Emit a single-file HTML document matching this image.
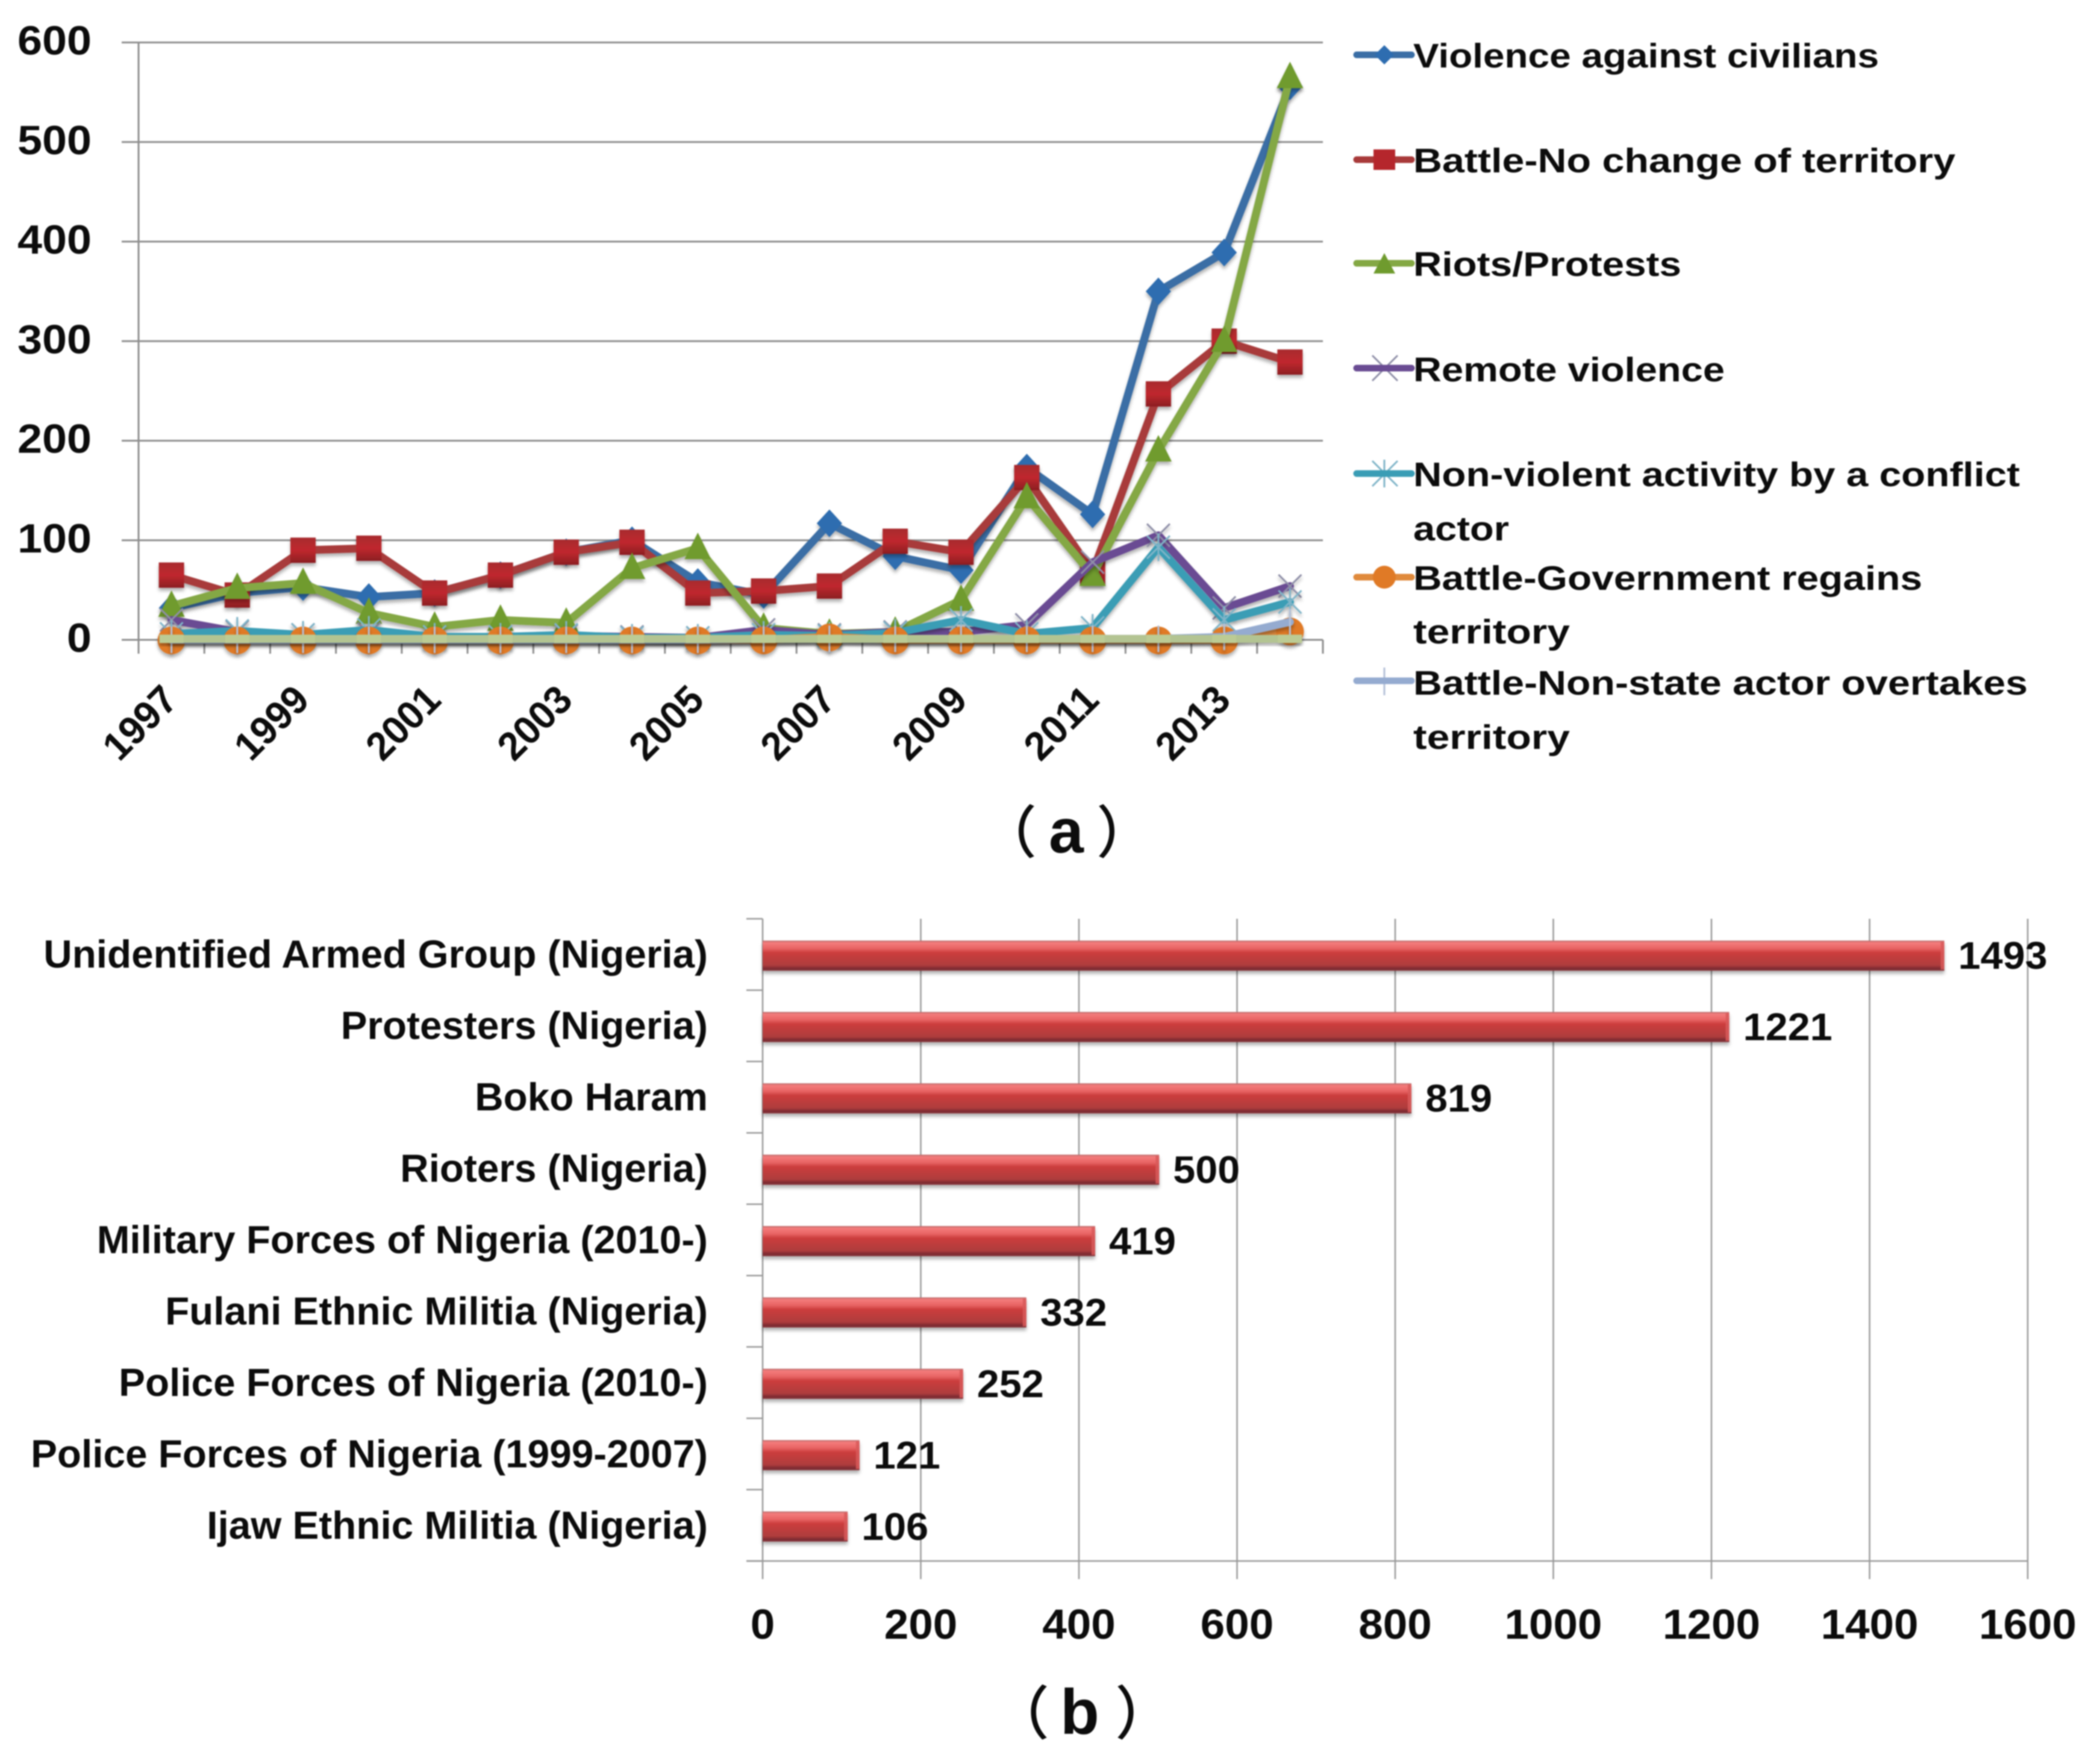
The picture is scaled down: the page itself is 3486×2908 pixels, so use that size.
<!DOCTYPE html>
<html lang="en">
<head>
<meta charset="utf-8">
<title>Nigeria conflict events by type and actor</title>
<style>
html,body{margin:0;padding:0;background:#fff;}
svg{display:block;filter:blur(1.1px);}
text{font-family:"Liberation Sans","Noto Sans CJK SC",sans-serif;font-weight:700;fill:#0c0c0c;}
</style>
</head>
<body>
<svg id="figure" xmlns="http://www.w3.org/2000/svg" width="3486" height="2908" viewBox="0 0 3486 2908">
  <defs>
    <linearGradient id="barFill" x1="0" y1="0" x2="0" y2="1">
      <stop offset="0" stop-color="#b86a6a"/>
      <stop offset="0.07" stop-color="#f47c7c"/>
      <stop offset="0.26" stop-color="#e86464"/>
      <stop offset="0.4" stop-color="#cc3e3e"/>
      <stop offset="0.82" stop-color="#ae3c3c"/>
      <stop offset="0.93" stop-color="#7c2a32"/>
      <stop offset="1" stop-color="#8a3a3e"/>
    </linearGradient>
    <linearGradient id="squareFill" x1="0" y1="0" x2="0" y2="1">
      <stop offset="0" stop-color="#a82a2e"/>
      <stop offset="0.5" stop-color="#c0282e"/>
      <stop offset="1" stop-color="#8c1e22"/>
    </linearGradient>
    <filter id="softShadow" x="-30%" y="-30%" width="160%" height="170%">
      <feDropShadow dx="0" dy="5" stdDeviation="3" flood-color="#000" flood-opacity="0.3"/>
    </filter>
  </defs>

  <g id="chartA"></g>

  <g id="legendA">
    <g>
      <line x1="2252" y1="91" x2="2343" y2="91" stroke="#3a6ea5" stroke-width="11" stroke-linecap="round"/>
      <polygon points="2298,75 2314,91 2298,107 2282,91" fill="#2e6db0"/>
      <text x="2346" y="112" font-size="57" textLength="773" lengthAdjust="spacingAndGlyphs">Violence against civilians</text>
    </g>
    <g>
      <line x1="2252" y1="265" x2="2343" y2="265" stroke="#a83a3a" stroke-width="11" stroke-linecap="round"/>
      <rect x="2280" y="248" width="36" height="34" fill="#b5262c"/>
      <text x="2346" y="286" font-size="57" textLength="900" lengthAdjust="spacingAndGlyphs">Battle-No change of territory</text>
    </g>
    <g>
      <line x1="2252" y1="437" x2="2343" y2="437" stroke="#84a844" stroke-width="11" stroke-linecap="round"/>
      <polygon points="2298,420 2316,454 2280,454" fill="#6f9b2e"/>
      <text x="2346" y="458" font-size="57" textLength="445" lengthAdjust="spacingAndGlyphs">Riots/Protests</text>
    </g>
    <g>
      <line x1="2278" y1="590" x2="2320" y2="632" stroke="#8f8fa8" stroke-width="3"/>
      <line x1="2278" y1="632" x2="2320" y2="590" stroke="#8f8fa8" stroke-width="3"/>
      <line x1="2252" y1="611" x2="2343" y2="611" stroke="#6a4c93" stroke-width="11" stroke-linecap="round"/>
      <text x="2346" y="633" font-size="57" textLength="517" lengthAdjust="spacingAndGlyphs">Remote violence</text>
    </g>
    <g>
      <line x1="2278" y1="765" x2="2320" y2="807" stroke="#7fb4c8" stroke-width="3"/>
      <line x1="2278" y1="807" x2="2320" y2="765" stroke="#7fb4c8" stroke-width="3"/>
      <line x1="2298" y1="763" x2="2298" y2="809" stroke="#7fb4c8" stroke-width="3"/>
      <line x1="2252" y1="786" x2="2343" y2="786" stroke="#3a9db5" stroke-width="11" stroke-linecap="round"/>
      <text x="2346" y="807" font-size="57" textLength="1007" lengthAdjust="spacingAndGlyphs">Non-violent activity by a conflict</text>
      <text x="2346" y="897" font-size="57" textLength="159" lengthAdjust="spacingAndGlyphs">actor</text>
    </g>
    <g>
      <line x1="2252" y1="958" x2="2343" y2="958" stroke="#e08a3c" stroke-width="11" stroke-linecap="round"/>
      <circle cx="2298" cy="958" r="19" fill="#e07a26"/>
      <text x="2346" y="979" font-size="57" textLength="845" lengthAdjust="spacingAndGlyphs">Battle-Government regains</text>
      <text x="2346" y="1068" font-size="57" textLength="260" lengthAdjust="spacingAndGlyphs">territory</text>
    </g>
    <g>
      <line x1="2298" y1="1108" x2="2298" y2="1154" stroke="#b4c0d8" stroke-width="3"/>
      <line x1="2252" y1="1130" x2="2343" y2="1130" stroke="#95abd0" stroke-width="11" stroke-linecap="round"/>
      <text x="2346" y="1153" font-size="57" textLength="1020" lengthAdjust="spacingAndGlyphs">Battle-Non-state actor overtakes</text>
      <text x="2346" y="1243" font-size="57" textLength="260" lengthAdjust="spacingAndGlyphs">territory</text>
    </g>
  </g>

  <text font-size="104" y="1415"><tspan x="1627" font-size="94" style="font-weight:500">（</tspan><tspan x="1741">a</tspan><tspan x="1820" font-size="94" style="font-weight:500">）</tspan></text>

  <g id="chartB"></g>

  <text font-size="106" y="2878"><tspan x="1646" font-size="96" style="font-weight:500">（</tspan><tspan x="1760">b</tspan><tspan x="1851" font-size="96" style="font-weight:500">）</tspan></text>
</svg>

<script>
// ---- Chart (a) data ----
const years = [1997,1998,1999,2000,2001,2002,2003,2004,2005,2006,2007,2008,2009,2010,2011,2012,2013,2014];
const yTicksA = [0,100,200,300,400,500,600];
const violenceAgainstCivilians = [32,47,53,43,47,65,88,100,58,45,117,84,70,173,126,350,389,556];
const battleNoChange = [65,45,90,92,47,65,88,98,47,49,54,99,88,163,68,247,300,279];
const riotsProtests = [34,52,57,27,13,20,17,72,92,12,6,8,40,143,65,190,300,565];
const remoteViolence = [20,8,5,6,3,3,4,3,2,10,5,8,8,15,78,105,32,54];
const nonViolentActivity = [6,9,5,10,3,3,5,2,2,5,4,7,20,6,12,93,20,38];
const battleGovernmentRegains = [0,0,0,0,0,0,0,0,0,0,3,0,0,0,0,0,0,9];
const battleNonStateOvertakes = [0,0,0,0,0,0,0,0,0,1,1,1,1,1,1,1,3,18];
const otherEvents = [1,1,1,1,1,1,1,1,1,1,1,1,1,1,1,1,1,1];

// ---- Chart (b) data ----
const actors = ["Unidentified Armed Group (Nigeria)","Protesters (Nigeria)","Boko Haram","Rioters (Nigeria)","Military Forces of Nigeria (2010-)","Fulani Ethnic Militia (Nigeria)","Police Forces of Nigeria (2010-)","Police Forces of Nigeria (1999-2007)","Ijaw Ethnic Militia (Nigeria)"];
const actorEvents = [1493,1221,819,500,419,332,252,121,106];
const xTicksB = [0,200,400,600,800,1000,1200,1400,1600];

const NS = "http://www.w3.org/2000/svg";
function make(parent, tag, attrs) {
  const el = document.createElementNS(NS, tag);
  for (const k in attrs) el.setAttribute(k, attrs[k]);
  parent.appendChild(el);
  return el;
}

// ---- Axis functions ----
const aLeft = 230, aRight = 2196, aBase = 1062, aTop = 70.5, aMax = 600;
function xA(i) { return aLeft + (i + 0.5) * (aRight - aLeft) / years.length; }
function yA(v) { return aBase - v * (aBase - aTop) / aMax; }
const bLeft = 1266, bRight = 3366, bTop = 1525, bBase = 2591, bMax = 1600;
function xB(v) { return bLeft + v * (bRight - bLeft) / bMax; }
function bandB(i) { return bTop + i * (bBase - bTop) / actors.length; }
const bandHeight = (bBase - bTop) / actors.length;

const chartA = document.getElementById("chartA");
const chartB = document.getElementById("chartB");
const gridColor = "#8e8e8e";

// ---- Chart (a) axes ----
const axesA = make(chartA, "g", {});


yTicksA.forEach(function (t) {
  const g = make(axesA, "line", {x1: 202, x2: aRight, y1: yA(t), y2: yA(t), stroke: gridColor, "stroke-width": 3});
  
  
  const s = String(t);
  const lab = make(axesA, "text", {x: 152, y: yA(t) + 20, "font-size": 68, "text-anchor": "end", textLength: s.length * 41, lengthAdjust: "spacingAndGlyphs"});
  lab.textContent = s;
  
  
});
const yAxisLine = make(axesA, "line", {x1: aLeft, x2: aLeft, y1: aTop, y2: 1085, stroke: gridColor, "stroke-width": 3});


for (let i = 0; i <= years.length; i++) {
  const tx = aLeft + i * (aRight - aLeft) / years.length;
  const tick = make(axesA, "line", {x1: tx, x2: tx, y1: aBase, y2: 1085, stroke: gridColor, "stroke-width": 3});
  
  
}
years.forEach(function (yr, i) {
  if (i % 2) return;
  const cx = xA(i) - 52, cy = 1200;
  const lab = make(axesA, "text", {x: cx, y: cy + 22, "font-size": 66, "text-anchor": "middle", textLength: 142, lengthAdjust: "spacingAndGlyphs", transform: "rotate(-45 " + cx + " " + cy + ")"});
  lab.textContent = yr;
  
  
});

// ---- Chart (a) series ----
function markerDiamond(g, x, y, c) {
  make(g, "polygon", {points: [x, y - 23, x + 21, y, x, y + 23, x - 21, y].join(","), fill: c});
}
function markerSquare(g, x, y) {
  make(g, "rect", {x: x - 21, y: y - 21, width: 42, height: 42, fill: "url(#squareFill)"});
}
function markerTriangle(g, x, y, c) {
  make(g, "polygon", {points: [x, y - 26, x + 22, y + 18, x - 22, y + 18].join(","), fill: c});
}
function markerX(g, x, y, c) {
  make(g, "line", {x1: x - 19, y1: y - 19, x2: x + 19, y2: y + 19, stroke: c, "stroke-width": 3});
  make(g, "line", {x1: x - 19, y1: y + 19, x2: x + 19, y2: y - 19, stroke: c, "stroke-width": 3});
}
function markerStar(g, x, y, c) {
  markerX(g, x, y, c);
  make(g, "line", {x1: x, y1: y - 23, x2: x, y2: y + 23, stroke: c, "stroke-width": 3});
}
function markerCircle(g, x, y, c) {
  make(g, "circle", {cx: x, cy: y + 1, r: 23, fill: c});
}
function markerPlus(g, x, y, c) {
  make(g, "line", {x1: x, y1: y - 22, x2: x, y2: y + 22, stroke: c, "stroke-width": 3});
}
function markerBand(g, x, y, c) {
  make(g, "rect", {x: x - 20, y: y - 7, width: 40, height: 14, fill: c});
}
function drawSeries(name, values, lineColor, markerFn, markerColor) {
  const g = make(chartA, "g", {filter: "url(#softShadow)"});
  
  
  const pts = values.map(function (v, i) { return xA(i) + "," + yA(v); }).join(" ");
  const line = make(g, "polyline", {points: pts, fill: "none", stroke: lineColor, "stroke-width": 13, "stroke-linejoin": "round", "stroke-linecap": "round"});
  
  
  values.forEach(function (v, i) {
    const m = make(g, "g", {});
    
    
    markerFn(m, xA(i), yA(v), markerColor);
  });
}
drawSeries('series-violence-against-civilians', violenceAgainstCivilians, "#3a6ea5", markerDiamond, "#2e6db0");
drawSeries('series-battle-no-change', battleNoChange, "#a83a3a", markerSquare, "#b5262c");
drawSeries('series-riots-protests', riotsProtests, "#84a844", markerTriangle, "#6f9b2e");
drawSeries('series-remote-violence', remoteViolence, "#6a4c93", markerX, "#8f8fa8");
drawSeries('series-non-violent-activity', nonViolentActivity, "#3a9db5", markerStar, "#7fb4c8");
drawSeries('series-battle-government-regains', battleGovernmentRegains, "#e08a3c", markerCircle, "#e07a26");
drawSeries('series-battle-non-state-overtakes', battleNonStateOvertakes, "#95abd0", markerPlus, "#b4c0d8");
drawSeries('series-other-events', otherEvents, "#b3c492", markerBand, "#bccb94");

// ---- Chart (b) axes ----
const axesB = make(chartB, "g", {});


xTicksB.forEach(function (t) {
  const g = make(axesB, "line", {x1: xB(t), x2: xB(t), y1: bTop, y2: 2621, stroke: "#9a9a9a", "stroke-width": 2.5});
  
  
  const s = String(t);
  const lab = make(axesB, "text", {x: xB(t), y: 2720, "font-size": 70, "text-anchor": "middle", textLength: s.length * 40.5, lengthAdjust: "spacingAndGlyphs"});
  lab.textContent = s;
  
  
});
for (let i = 0; i <= actors.length; i++) {
  const tick = make(axesB, "line", {x1: 1239, x2: bLeft, y1: bandB(i), y2: bandB(i), stroke: "#9a9a9a", "stroke-width": 2.5});
  
  
}
const xAxisB = make(axesB, "line", {x1: 1239, x2: bRight, y1: bBase, y2: bBase, stroke: "#9a9a9a", "stroke-width": 2.5});



// ---- Chart (b) bars ----
actors.forEach(function (name, i) {
  const v = actorEvents[i];
  const cy = bandB(i) + bandHeight / 2 + 2;
  const bar = make(chartB, "rect", {x: xB(0), y: cy - 25, width: xB(v) - xB(0) + 2, height: 50, fill: "url(#barFill)", filter: "url(#softShadow)"});
  
  
  const cap = make(chartB, "rect", {x: xB(v) - 4, y: cy - 23, width: 6, height: 46, fill: "#d85a5a", opacity: 0.85});
  
  

  const base = bandB(i) + bandHeight / 2 + 22;
  const lab = make(chartB, "text", {x: 1175, y: base, "font-size": 65, "text-anchor": "end"});
  lab.textContent = name;
  
  
  lab.setAttribute('textLength', lab.getComputedTextLength() * 1.01);
  lab.setAttribute('lengthAdjust', 'spacingAndGlyphs');

  const s = String(v);
  const val = make(chartB, "text", {x: xB(v) + 25, y: base + 2, "font-size": 64, textLength: s.length * 37, lengthAdjust: "spacingAndGlyphs"});
  val.textContent = s;
  
  
});
</script>
</body>
</html>
